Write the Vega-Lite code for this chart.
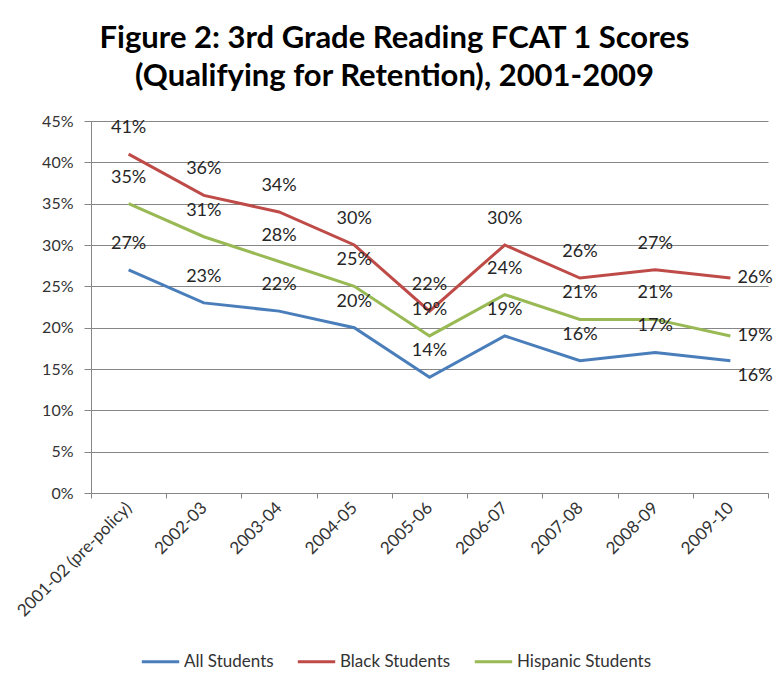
{
  "$schema": "https://vega.github.io/schema/vega-lite/v6.json",
  "width": 677,
  "height": 372,
  "autosize": {"type": "none"},
  "padding": {"left": 91, "top": 121, "right": 16, "bottom": 195},
  "background": "white",
  "config": {"view": {"stroke": null}, "font": "Lato"},
  "title": {
    "text": ["Figure 2: 3rd Grade Reading FCAT 1 Scores", "(Qualifying for Retention), 2001-2009"],
    "font": "Lato",
    "fontSize": 31,
    "fontWeight": "bold",
    "lineHeight": 38,
    "color": "#000000",
    "anchor": "middle",
    "dx": -35,
    "offset": 20
  },
  "data": {
    "values": [
      {"year": "2001-02 (pre-policy)", "series": "All Students", "value": 0.27},
      {"year": "2002-03", "series": "All Students", "value": 0.23},
      {"year": "2003-04", "series": "All Students", "value": 0.22},
      {"year": "2004-05", "series": "All Students", "value": 0.20},
      {"year": "2005-06", "series": "All Students", "value": 0.14},
      {"year": "2006-07", "series": "All Students", "value": 0.19},
      {"year": "2007-08", "series": "All Students", "value": 0.16},
      {"year": "2008-09", "series": "All Students", "value": 0.17},
      {"year": "2009-10", "series": "All Students", "value": 0.16},
      {"year": "2001-02 (pre-policy)", "series": "Black Students", "value": 0.41},
      {"year": "2002-03", "series": "Black Students", "value": 0.36},
      {"year": "2003-04", "series": "Black Students", "value": 0.34},
      {"year": "2004-05", "series": "Black Students", "value": 0.30},
      {"year": "2005-06", "series": "Black Students", "value": 0.22},
      {"year": "2006-07", "series": "Black Students", "value": 0.30},
      {"year": "2007-08", "series": "Black Students", "value": 0.26},
      {"year": "2008-09", "series": "Black Students", "value": 0.27},
      {"year": "2009-10", "series": "Black Students", "value": 0.26},
      {"year": "2001-02 (pre-policy)", "series": "Hispanic Students", "value": 0.35},
      {"year": "2002-03", "series": "Hispanic Students", "value": 0.31},
      {"year": "2003-04", "series": "Hispanic Students", "value": 0.28},
      {"year": "2004-05", "series": "Hispanic Students", "value": 0.25},
      {"year": "2005-06", "series": "Hispanic Students", "value": 0.19},
      {"year": "2006-07", "series": "Hispanic Students", "value": 0.24},
      {"year": "2007-08", "series": "Hispanic Students", "value": 0.21},
      {"year": "2008-09", "series": "Hispanic Students", "value": 0.21},
      {"year": "2009-10", "series": "Hispanic Students", "value": 0.19}
    ]
  },
  "encoding": {
    "x": {
      "field": "year",
      "type": "ordinal",
      "sort": null,
      "bandPosition": 0.5,
      "scale": {"type": "band", "paddingInner": 0, "paddingOuter": 0},
      "axis": {
        "title": null,
        "labelAngle": -45,
        "labelAlign": "right",
        "labelBaseline": "middle",
        "tickBand": "extent",
        "ticks": true,
        "tickSize": 5,
        "tickColor": "#868686",
        "domainColor": "#868686",
        "grid": false,
        "labelFont": "Lato",
        "labelFontSize": 17,
        "labelColor": "#333333",
        "labelPadding": 7
      }
    },
    "y": {
      "field": "value",
      "type": "quantitative",
      "scale": {"domain": [0, 0.45], "nice": false},
      "axis": {
        "title": null,
        "format": ".0%",
        "values": [0, 0.05, 0.1, 0.15, 0.2, 0.25, 0.3, 0.35, 0.4, 0.45],
        "grid": true,
        "gridColor": "#868686",
        "domainColor": "#868686",
        "tickColor": "#868686",
        "tickSize": 7,
        "labelPadding": 11,
        "labelFont": "Lato",
        "labelFontSize": 16,
        "labelColor": "#333333"
      }
    }
  },
  "layer": [
    {
      "mark": {"type": "line", "strokeWidth": 3},
      "encoding": {
        "color": {
          "field": "series",
          "type": "nominal",
          "scale": {
            "domain": ["All Students", "Black Students", "Hispanic Students"],
            "range": ["#4A7EBB", "#BE4B48", "#98B954"]
          },
          "legend": {
            "title": null,
            "orient": "none",
            "direction": "horizontal",
            "legendX": 49,
            "legendY": 520,
            "symbolType": "stroke",
            "symbolSize": 1400,
            "symbolStrokeWidth": 3,
            "labelFont": "Lato",
            "labelFontSize": 17,
            "labelColor": "#333333",
            "columnPadding": 17,
            "labelOffset": 3
          }
        }
      }
    },
    {
      "transform": [{"filter": "datum.year != '2009-10'"}],
      "mark": {"type": "text", "dy": -26, "fontSize": 18, "font": "Lato", "color": "#262626"},
      "encoding": {"text": {"field": "value", "type": "quantitative", "format": ".0%"}}
    },
    {
      "transform": [{"filter": "datum.year == '2009-10' && datum.series != 'All Students'"}],
      "mark": {"type": "text", "align": "left", "dx": 7, "fontSize": 18, "font": "Lato", "color": "#262626"},
      "encoding": {"text": {"field": "value", "type": "quantitative", "format": ".0%"}}
    },
    {
      "transform": [{"filter": "datum.year == '2009-10' && datum.series == 'All Students'"}],
      "mark": {"type": "text", "align": "left", "dx": 7, "dy": 15, "fontSize": 18, "font": "Lato", "color": "#262626"},
      "encoding": {"text": {"field": "value", "type": "quantitative", "format": ".0%"}}
    }
  ]
}
